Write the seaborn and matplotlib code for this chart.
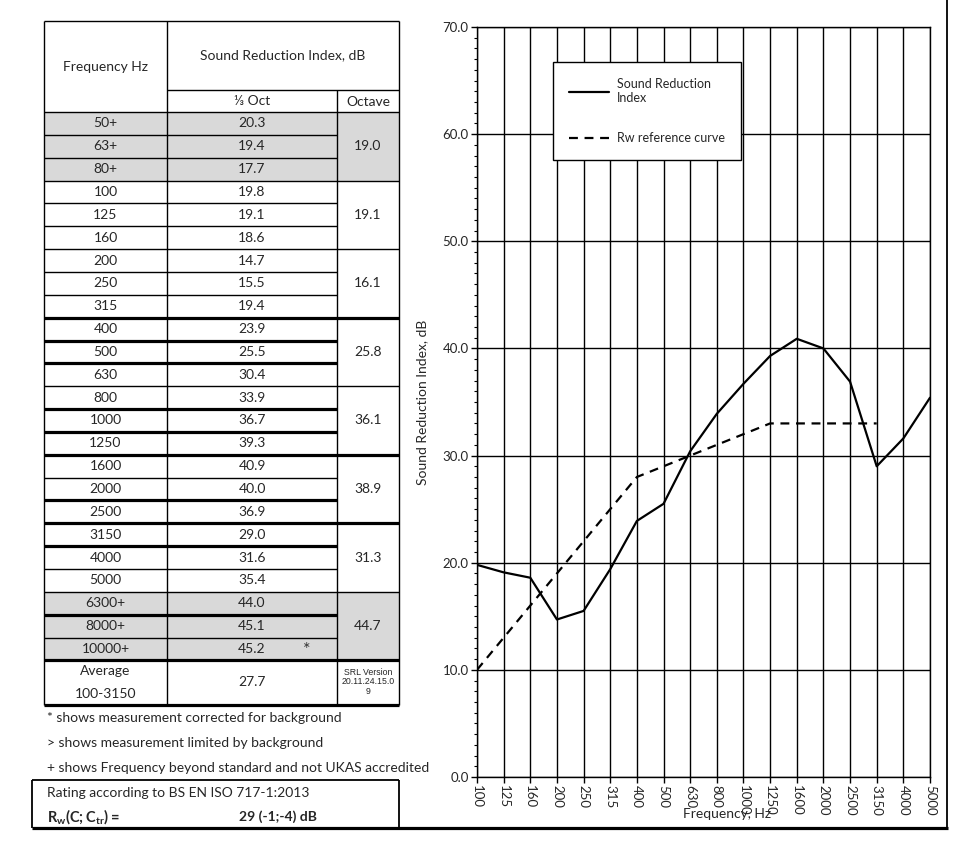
import pandas as pd
import matplotlib
matplotlib.use("Agg")
import matplotlib.pyplot as plt
import seaborn as sns
import numpy as np

sns.set_theme(style="white")
plt.rcParams['font.family'] = ['Lato', 'DejaVu Sans']
plt.rcParams['mathtext.fontset'] = 'custom'
plt.rcParams['mathtext.rm'] = 'Lato'
plt.rcParams['mathtext.bf'] = 'Lato:bold'

# table data
TABLE_FREQS = ['50+', '63+', '80+', '100', '125', '160', '200', '250', '315',
               '400', '500', '630', '800', '1000', '1250', '1600', '2000', '2500',
               '3150', '4000', '5000', '6300+', '8000+', '10000+']
TABLE_THIRD = ['20.3', '19.4', '17.7', '19.8', '19.1', '18.6', '14.7', '15.5', '19.4',
               '23.9', '25.5', '30.4', '33.9', '36.7', '39.3', '40.9', '40.0', '36.9',
               '29.0', '31.6', '35.4', '44.0', '45.1', '45.2']
TABLE_OCTAVE = ['19.0', '19.1', '16.1', '25.8', '36.1', '38.9', '31.3', '44.7']
AVERAGE = '27.7'
RATING = '29 (-1;-4) dB'

# chart data
FREQS = ['100', '125', '160', '200', '250', '315', '400', '500', '630', '800',
         '1000', '1250', '1600', '2000', '2500', '3150', '4000', '5000']
SRI = [19.8, 19.1, 18.6, 14.7, 15.5, 19.4, 23.9, 25.5, 30.4, 33.9,
       36.7, 39.3, 40.9, 40.0, 36.9, 29.0, 31.6, 35.4]
RW_REF = [10, 13, 16, 19, 22, 25, 28, 29, 30, 31, 32, 33, 33, 33, 33, 33]

W, H = 977, 850
fig = plt.figure(figsize=(W / 100, H / 100), dpi=100)

# ---------- left table, drawn in pixel coords ----------
tab = fig.add_axes([0, 0, 1, 1])
tab.set_xlim(0, W)
tab.set_ylim(H, 0)
tab.axis('off')

x0, x1, x2, x3 = 44, 167, 337, 399
top, sub, row0 = 21, 90, 112
pitch = 22.85
n = len(TABLE_FREQS)
rows_end = row0 + n * pitch
avg_end = 705
thin, thick = 1.0, 2.3

def hline(y, xa, xb, lw=thin):
    tab.plot([xa, xb], [y, y], color='black', lw=lw, solid_capstyle='butt')

def vline(x, ya, yb, lw=thin):
    tab.plot([x, x], [ya, yb], color='black', lw=lw, solid_capstyle='butt')

# gray rows (beyond standard)
for g0, g1 in [(0, 3), (21, 24)]:
    tab.add_patch(plt.Rectangle((x0, row0 + g0 * pitch), x3 - x0, (g1 - g0) * pitch,
                                color='#d9d9d9', lw=0, zorder=0))

hline(top, x0, x3)
hline(sub, x1, x3)
hline(row0, x0, x3)
thick_rows = {9, 10, 11, 13, 14, 15, 17, 18, 19, 22}
for k in range(1, n):
    xe = x3 if k % 3 == 0 else x2
    hline(row0 + k * pitch, x0, xe, thick if k in thick_rows else thin)
hline(rows_end, x0, x3, thick)
hline(avg_end, x0, x3, thick)
vline(x0, top, avg_end)
vline(x1, top, avg_end)
vline(x2, sub, avg_end)
vline(x3, top, avg_end)

tab.text((x0 + x1) / 2, 67, 'Frequency Hz', ha='center', va='center', fontsize=10)
tab.text((x1 + x3) / 2, 55, 'Sound Reduction Index, dB', ha='center', va='center', fontsize=10)
tab.text((x1 + x2) / 2, 101, '⅓ Oct', ha='center', va='center', fontsize=10)
tab.text((x2 + x3) / 2, 102, 'Octave', ha='center', va='center', fontsize=10)

for i, (f, v) in enumerate(zip(TABLE_FREQS, TABLE_THIRD)):
    yc = row0 + (i + 0.5) * pitch
    tab.text((x0 + x1) / 2, yc, f, ha='center', va='center', fontsize=10)
    tab.text((x1 + x2) / 2, yc, v, ha='center', va='center', fontsize=10)
tab.text(307, row0 + 23.55 * pitch, '*', ha='center', va='center', fontsize=13, color='#333333')
for j, v in enumerate(TABLE_OCTAVE):
    tab.text((x2 + x3) / 2, row0 + (3 * j + 1.5) * pitch, v, ha='center', va='center', fontsize=10)

tab.text((x0 + x1) / 2, 671, 'Average', ha='center', va='center', fontsize=10)
tab.text((x0 + x1) / 2, 694, '100-3150', ha='center', va='center', fontsize=10)
tab.text((x1 + x2) / 2, 682, AVERAGE, ha='center', va='center', fontsize=10)
tab.text((x2 + x3) / 2, 682, 'SRL Version\n20.11.24.15.0\n9', ha='center', va='center',
         fontsize=6.3, family='Liberation Sans', linespacing=1.1)

tab.text(47, 718, '* shows measurement corrected for background', va='center', fontsize=10)
tab.text(47, 743, '> shows measurement limited by background', va='center', fontsize=10)
tab.text(47, 768, '+ shows Frequency beyond standard and not UKAS accredited', va='center', fontsize=10)

# rating box and outer frame
hline(780, 32, x3, 1.3)
hline(828, 32, 948, 2.3)
vline(32, 780, 828, 1.3)
vline(x3, 780, 828, 1.3)
vline(947, 0, 828, 1.3)
tab.text(47, 793, 'Rating according to BS EN ISO 717-1:2013', va='center', fontsize=10)
tab.text(47, 817, r'$\mathbf{R_{w}(C{;}C_{tr}){=}}$', va='center', fontsize=10.5)
tab.text(239, 817, RATING, va='center', fontsize=10, fontweight='bold')

# ---------- right chart ----------
L, R, T, B = 477, 930, 27, 777
ax = fig.add_axes([L / W, (H - B) / H, (R - L) / W, (B - T) / H])
ax.set_facecolor('none')

df_sri = pd.DataFrame({'pos': np.arange(len(FREQS)), 'value': SRI})
df_ref = pd.DataFrame({'pos': np.arange(len(RW_REF)), 'value': RW_REF})
sns.lineplot(data=df_sri, x='pos', y='value', ax=ax, color='black', lw=1.6,
             label='Sound Reduction\nIndex')
sns.lineplot(data=df_ref, x='pos', y='value', ax=ax, color='black', lw=1.6,
             linestyle=(0, (4, 3)), label='Rw reference curve')

ax.set_xlim(0, len(FREQS) - 1)
ax.set_ylim(0, 70)
ax.set_xticks(np.arange(len(FREQS)))
ax.set_xticklabels(FREQS, rotation=270, ha='center', va='top', fontsize=9.5)
ax.set_yticks(np.arange(0, 71, 10))
ax.set_yticklabels([f'{v:.1f}' for v in range(0, 71, 10)], fontsize=9.5)
ax.set_yticks(np.arange(0, 71, 1), minor=True)
ax.tick_params(axis='both', which='major', direction='out', length=4, width=1,
               color='black', left=True, bottom=True, pad=2)
ax.tick_params(axis='y', which='minor', direction='out', length=2.5, width=0.8,
               color='black', left=True)
ax.grid(True, which='major', color='black', lw=1.0)
for s in ax.spines.values():
    s.set_color('black')
    s.set_linewidth(1.0)

ax.set_xlabel('Frequency, Hz', fontsize=10)
ax.xaxis.set_label_coords(0.552, -0.042)
ax.set_ylabel('Sound Reduction Index, dB', fontsize=10)
ax.yaxis.set_label_coords(-0.108, 0.5)

leg = ax.legend(loc='upper left', bbox_to_anchor=(0.168, 0.953), frameon=True,
                fancybox=False, edgecolor='black', fontsize=9, handlelength=3.2,
                labelspacing=2.2, borderpad=1.3, handletextpad=0.6, borderaxespad=0)
leg.get_frame().set_linewidth(1.0)
leg.get_frame().set_alpha(1)

fig.savefig('out.png', dpi=100, facecolor='white')
